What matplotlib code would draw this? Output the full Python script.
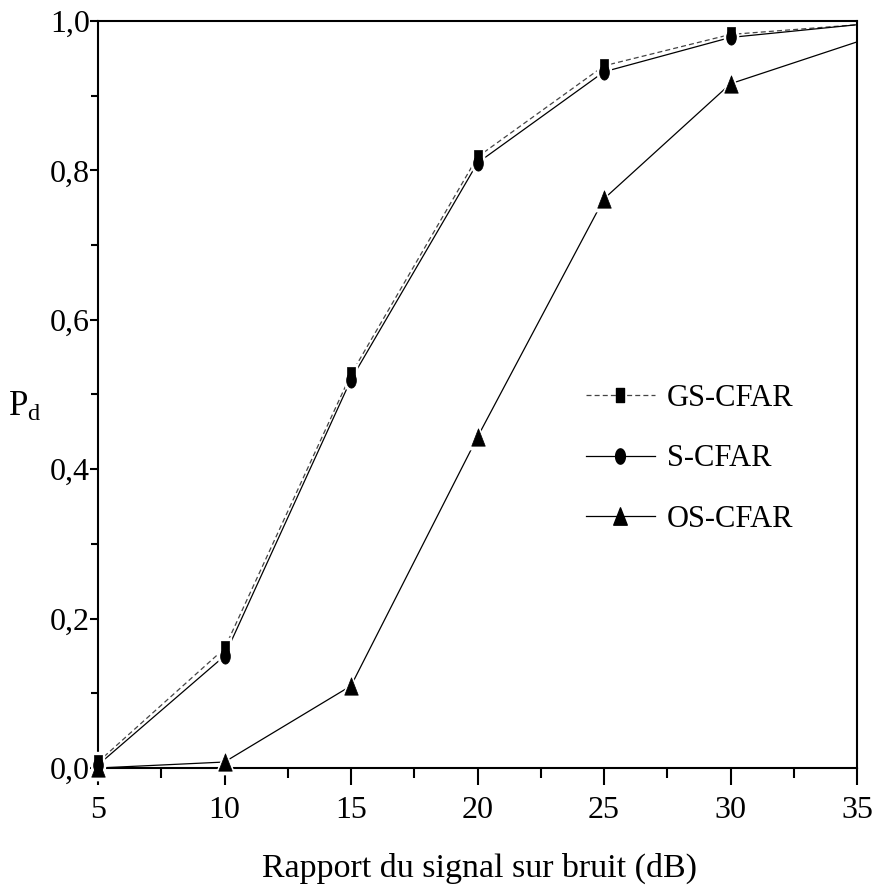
import numpy as np
import matplotlib
matplotlib.use("Agg")
import matplotlib.pyplot as plt
from matplotlib.path import Path
from matplotlib.ticker import MultipleLocator, FuncFormatter

# ---- data ----
snr = [5, 10, 15, 20, 25, 30, 35]
gs_cfar = [0.008, 0.160, 0.527, 0.818, 0.940, 0.982, 0.995]
s_cfar = [0.004, 0.150, 0.520, 0.810, 0.932, 0.978, 0.995]
os_cfar = [0.000, 0.008, 0.110, 0.443, 0.762, 0.916, 0.972]
labels = ["GS-CFAR", "S-CFAR", "OS-CFAR"]
xticks = [5, 10, 15, 20, 25, 30, 35]
yticks = [0.0, 0.2, 0.4, 0.6, 0.8, 1.0]

plt.rcParams['font.family'] = ['Liberation Serif', 'DejaVu Serif']
plt.rcParams['mathtext.fontset'] = 'custom'
plt.rcParams['mathtext.rm'] = 'Liberation Serif'
plt.rcParams['mathtext.it'] = 'Liberation Serif:italic'

# ---- marker shapes ----
rect_marker = Path([(-0.3, -0.5), (0.3, -0.5), (0.3, 0.5), (-0.3, 0.5), (-0.3, -0.5)],
                   [Path.MOVETO, Path.LINETO, Path.LINETO, Path.LINETO, Path.CLOSEPOLY])
t = np.linspace(0, 2 * np.pi, 41)
ell_marker = Path(np.column_stack([0.32 * np.cos(t), 0.5 * np.sin(t)]))
tri_marker = Path([(0, 0.5), (-0.39, -0.5), (0.39, -0.5), (0, 0.5)],
                  [Path.MOVETO, Path.LINETO, Path.LINETO, Path.CLOSEPOLY])

fig = plt.figure(figsize=(8.8, 8.93), dpi=100)
ax = fig.add_axes([98 / 880, 1 - 768 / 893, (857 - 98) / 880, (768 - 21) / 893])

series = [
    (gs_cfar, rect_marker, 9.6, dict(color='#444444', ls=(0, (4, 2.5)), lw=0.9)),
    (s_cfar, ell_marker, 11.0, dict(color='black', ls='-', lw=0.9)),
    (os_cfar, tri_marker, 12.5, dict(color='black', ls='-', lw=0.9)),
]
mk_idx = list(range(len(snr) - 1))
handles = []
for (vals, mk, ms, st), lab in zip(series, labels):
    ax.plot(snr, vals, zorder=2, **st)
    # white halo around markers (gap between line and marker)
    ax.plot(snr, vals, ls='none', marker=mk, markersize=ms + 5, markevery=mk_idx,
            markerfacecolor='white', markeredgecolor='white', zorder=3, clip_on=False)
for (vals, mk, ms, st), lab in zip(series, labels):
    ax.plot(snr, vals, ls='none', marker=mk, markersize=ms, markevery=mk_idx,
            markerfacecolor='black', markeredgecolor='black', markeredgewidth=0.5,
            zorder=4, clip_on=False)
    h, = ax.plot([], [], marker=mk, markersize=ms, markerfacecolor='black',
                 markeredgecolor='black', **st)
    handles.append(h)

ax.set_xlim(5, 35)
ax.set_ylim(0, 1.0)
ax.set_xticks(xticks)
ax.set_yticks(yticks)
ax.xaxis.set_minor_locator(MultipleLocator(2.5))
ax.yaxis.set_minor_locator(MultipleLocator(0.1))
ax.yaxis.set_major_formatter(FuncFormatter(lambda v, p: f"{v:.1f}".replace('.', ',')))
ax.xaxis.set_major_formatter(FuncFormatter(lambda v, p: f"{int(round(v))}"))

for s in ax.spines.values():
    s.set_linewidth(1.5)
ax.tick_params(axis='x', which='major', direction='out', length=12, width=1.5,
               labelsize=23, pad=8, top=False)
ax.tick_params(axis='x', which='minor', direction='out', length=7, width=1.5, top=False)
ax.tick_params(axis='y', which='major', direction='out', length=6, width=1.5,
               labelsize=23, pad=0, right=False)
ax.tick_params(axis='y', which='minor', direction='out', length=5, width=1.5, right=False)

fig.text(480 / 880, 1 - 868 / 893, "Rapport du signal sur bruit (dB)",
         ha='center', va='center', fontsize=24.5)
fig.text(8 / 880, 1 - 407 / 893, r"P$_{\mathrm{d}}$", ha='left', va='center', fontsize=25)

leg = ax.legend(handles, labels, loc='upper left', bbox_to_anchor=(586 / 880, 1 - 384 / 893),
                bbox_transform=fig.transFigure, frameon=False, fontsize=22,
                handlelength=2.25, handletextpad=0.4, labelspacing=1.03, borderpad=0,
                borderaxespad=0)

fig.savefig("out.png", dpi=100)
